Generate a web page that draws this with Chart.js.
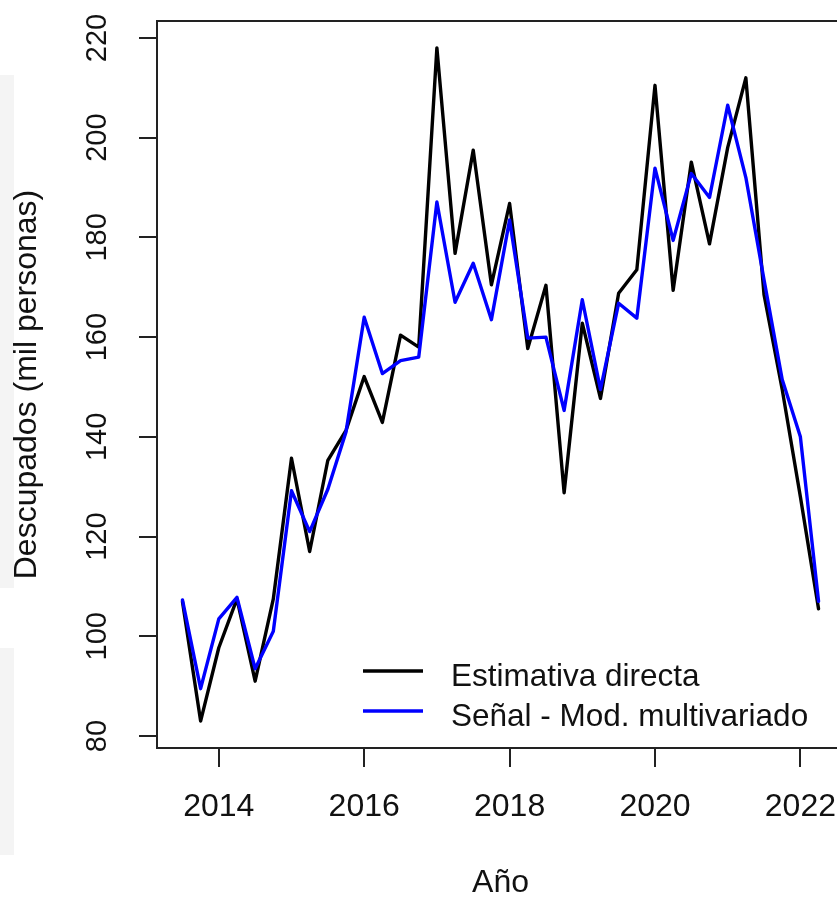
<!DOCTYPE html>
<html><head><meta charset="utf-8">
<script src="https://cdn.jsdelivr.net/npm/chart.js@4/dist/chart.umd.min.js"></script>
<style>
html,body{margin:0;padding:0;background:#fff;overflow:hidden;width:837px;height:899px;}
#wrap{position:relative;width:837px;height:899px;overflow:hidden;background:#fff;}
.g{position:absolute;left:0;width:14px;background:#f4f4f4;}
canvas{position:absolute;left:0;top:0;}
</style></head><body>
<div id="wrap">
<div class="g" style="top:75px;height:513px"></div>
<div class="g" style="top:648px;height:207px"></div>
<canvas id="c" width="860" height="899" style="width:860px;height:899px"></canvas>
</div>
<script>
// ---- data (quarterly) ----
const quarters = [2013.5, 2013.75, 2014.0, 2014.25, 2014.5, 2014.75, 2015.0, 2015.25, 2015.5, 2015.75,
  2016.0, 2016.25, 2016.5, 2016.75, 2017.0, 2017.25, 2017.5, 2017.75, 2018.0, 2018.25,
  2018.5, 2018.75, 2019.0, 2019.25, 2019.5, 2019.75, 2020.0, 2020.25, 2020.5, 2020.75,
  2021.0, 2021.25, 2021.5, 2021.75, 2022.0, 2022.25];
const estimativaDirecta = [107, 83, 97.7, 107.5, 91, 107.5, 135.7, 117, 135.3, 141.3,
  152.1, 142.9, 160.4, 158, 218, 176.8, 197.5, 170.5, 186.8, 157.7,
  170.4, 128.8, 162.8, 147.7, 168.8, 173.5, 210.5, 169.4, 195.1, 178.7,
  198, 212, 168.5, 149.5, 128, 105.5];
const senalMultivariado = [107.3, 89.5, 103.5, 107.8, 93.5, 101, 129.2, 121, 129.5, 141,
  164, 152.7, 155.3, 156, 187.1, 167, 174.8, 163.5, 183.5, 159.8,
  160, 145.3, 167.5, 149.5, 166.8, 163.8, 193.9, 179.4, 192.8, 188,
  206.5, 192, 171.5, 151.5, 140, 107];
const seriesNames = ['Estimativa directa', 'Señal - Mod. multivariado'];
const seriesColors = ['#000000', '#0000ff'];
const xTickValues = [2014, 2016, 2018, 2020, 2022];
const yTickValues = [80, 100, 120, 140, 160, 180, 200, 220];
const xTitle = 'Año';
const yTitle = 'Descupados (mil personas)';

const FONT = '"Liberation Sans", Arial, Helvetica, sans-serif';
const AXIS = '#222222';

const toPoints = (xs, ys) => xs.map((x, i) => ({x: x, y: ys[i]}));

const rStyle = {
  id: 'rStyle',
  afterDraw(chart) {
    const ctx = chart.ctx, ca = chart.chartArea, ys = chart.scales.y;
    ctx.save();
    // full box
    ctx.strokeStyle = AXIS; ctx.lineWidth = 2;
    ctx.strokeRect(ca.left, ca.top, ca.right - ca.left, ca.bottom - ca.top);
    // rotated y tick labels
    ctx.fillStyle = '#111'; ctx.font = '29px ' + FONT;
    ctx.textAlign = 'center'; ctx.textBaseline = 'alphabetic';
    yTickValues.forEach(v => {
      const y = ys.getPixelForValue(v);
      ctx.save(); ctx.translate(106, y); ctx.rotate(-Math.PI / 2);
      ctx.fillText(String(v), 0, 0); ctx.restore();
    });
    // legend (no box)
    const legY = [671, 711];
    ctx.font = '31.5px ' + FONT; ctx.textAlign = 'left';
    seriesNames.forEach((name, i) => {
      ctx.strokeStyle = seriesColors[i]; ctx.lineWidth = 3.5; ctx.lineCap = 'butt';
      ctx.beginPath(); ctx.moveTo(363, legY[i]); ctx.lineTo(423, legY[i]); ctx.stroke();
      ctx.fillStyle = '#111';
      ctx.fillText(name, 451, legY[i] + 14.5);
    });
    ctx.restore();
  }
};

new Chart(document.getElementById('c'), {
  type: 'line',
  data: {
    datasets: [
      {label: seriesNames[0], data: toPoints(quarters, estimativaDirecta), borderColor: seriesColors[0],
       borderWidth: 3.4, pointRadius: 0, tension: 0, fill: false, order: 2,
       borderJoinStyle: 'round', borderCapStyle: 'round'},
      {label: seriesNames[1], data: toPoints(quarters, senalMultivariado), borderColor: seriesColors[1],
       borderWidth: 3.4, pointRadius: 0, tension: 0, fill: false, order: 1,
       borderJoinStyle: 'round', borderCapStyle: 'round'}
    ]
  },
  options: {
    responsive: false, animation: false, events: [],
    layout: {padding: {top: 21, right: 16, left: 0, bottom: 0}},
    plugins: {legend: {display: false}, tooltip: {enabled: false}},
    scales: {
      x: {
        type: 'linear', min: 2013.15, max: 2022.6,
        afterBuildTicks: s => { s.ticks = xTickValues.map(v => ({value: v})); },
        afterFit: s => { s.height = 151; },
        grid: {display: true, drawOnChartArea: false, drawTicks: true, tickLength: 19,
               color: AXIS, tickColor: AXIS, lineWidth: 2, tickWidth: 2},
        border: {display: false},
        ticks: {color: '#111', font: {family: FONT, size: 32}, padding: 21, maxRotation: 0, autoSkip: false,
                callback: v => String(v)},
        title: {display: true, text: xTitle, color: '#111', font: {family: FONT, size: 32, lineHeight: 1},
                padding: {top: 0, bottom: 0}}
      },
      y: {
        type: 'linear', min: 77.6, max: 223.4,
        afterBuildTicks: s => { s.ticks = yTickValues.map(v => ({value: v})); },
        afterFit: s => { s.width = 157; },
        grid: {display: true, drawOnChartArea: false, drawTicks: true, tickLength: 18,
               color: AXIS, tickColor: AXIS, lineWidth: 2, tickWidth: 2},
        border: {display: false},
        ticks: {display: false},
        title: {display: true, text: yTitle, color: '#111', font: {family: FONT, size: 32},
                padding: {top: 8, bottom: 0}}
      }
    }
  },
  plugins: [rStyle]
});
</script>
</body></html>
